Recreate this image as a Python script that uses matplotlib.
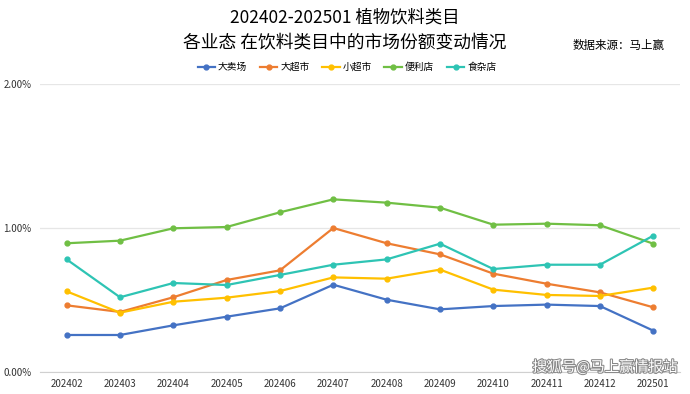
import numpy as np
import matplotlib.pyplot as plt
import matplotlib.patheffects as pe
from matplotlib.ticker import FuncFormatter

plt.rcParams['font.family'] = ['Noto Sans CJK SC', 'DejaVu Sans']

#%% data (share of category, %)
months = ["202402", "202403", "202404", "202405", "202406", "202407",
          "202408", "202409", "202410", "202411", "202412", "202501"]
hypermarket = [0.257, 0.257, 0.324, 0.384, 0.442, 0.606, 0.502, 0.435, 0.458, 0.468, 0.458, 0.287]
supermarket = [0.463, 0.417, 0.519, 0.639, 0.706, 1.000, 0.894, 0.817, 0.683, 0.613, 0.553, 0.449]
minimarket = [0.560, 0.412, 0.488, 0.516, 0.562, 0.657, 0.648, 0.711, 0.572, 0.535, 0.528, 0.586]
convenience = [0.894, 0.912, 0.998, 1.007, 1.109, 1.199, 1.176, 1.141, 1.023, 1.030, 1.019, 0.891]
grocery = [0.782, 0.519, 0.618, 0.604, 0.674, 0.745, 0.782, 0.891, 0.715, 0.745, 0.745, 0.947]

series = [("大卖场", hypermarket, "#4472C4"),
          ("大超市", supermarket, "#ED7D31"),
          ("小超市", minimarket, "#FFC000"),
          ("便利店", convenience, "#70BF44"),
          ("食杂店", grocery, "#2EC4B4")]

#%% plot
fig = plt.figure(figsize=(6.9, 3.94), dpi=100)
ax = fig.add_axes([40/690, 1 - 372/394, 640/690, 288/394])

x = np.arange(len(months))
for name, vals, col in series:
    ax.plot(x, vals, color=col, lw=1.6, marker="o", ms=3.5, label=name)

ax.set_xlim(-0.5, len(months) - 0.5)
ax.set_ylim(0, 2)
ax.set_yticks([0, 1, 2])
ax.yaxis.set_major_formatter(FuncFormatter(lambda v, p: "{:.2f}%".format(v)))
ax.set_xticks(x)
ax.set_xticklabels(months)
ax.tick_params(axis="both", length=0, labelsize=7, colors="#333333")
ax.tick_params(axis="y", pad=6)
ax.tick_params(axis="x", pad=5)
ax.grid(axis="y", color="#E6E6E6", lw=0.9)
ax.set_axisbelow(True)
for s in ["top", "right", "left"]:
    ax.spines[s].set_visible(False)
ax.spines["bottom"].set_color("#D0D0D0")

fig.text(0.5, 1 - 17/394, "202402-202501 植物饮料类目", ha="center", va="center", fontsize=12.5)
fig.text(0.5, 1 - 42/394, "各业态 在饮料类目中的市场份额变动情况", ha="center", va="center", fontsize=12.8)
fig.text(619/690, 1 - 45/394, "数据来源：马上赢", ha="center", va="center", fontsize=8.3)

fig.legend(loc="center", bbox_to_anchor=(347/690, 1 - 67/394), ncol=5, frameon=False,
           fontsize=7, handlelength=1.8, handletextpad=0.3, columnspacing=1.3)

# watermark
fig.text(678/690, 1 - 367/394, "搜狐号@马上赢情报站", ha="right", va="center", fontsize=10.5,
         color="white", path_effects=[pe.withStroke(linewidth=1.5, foreground="#888888")])

plt.savefig("out.png", dpi=100)
